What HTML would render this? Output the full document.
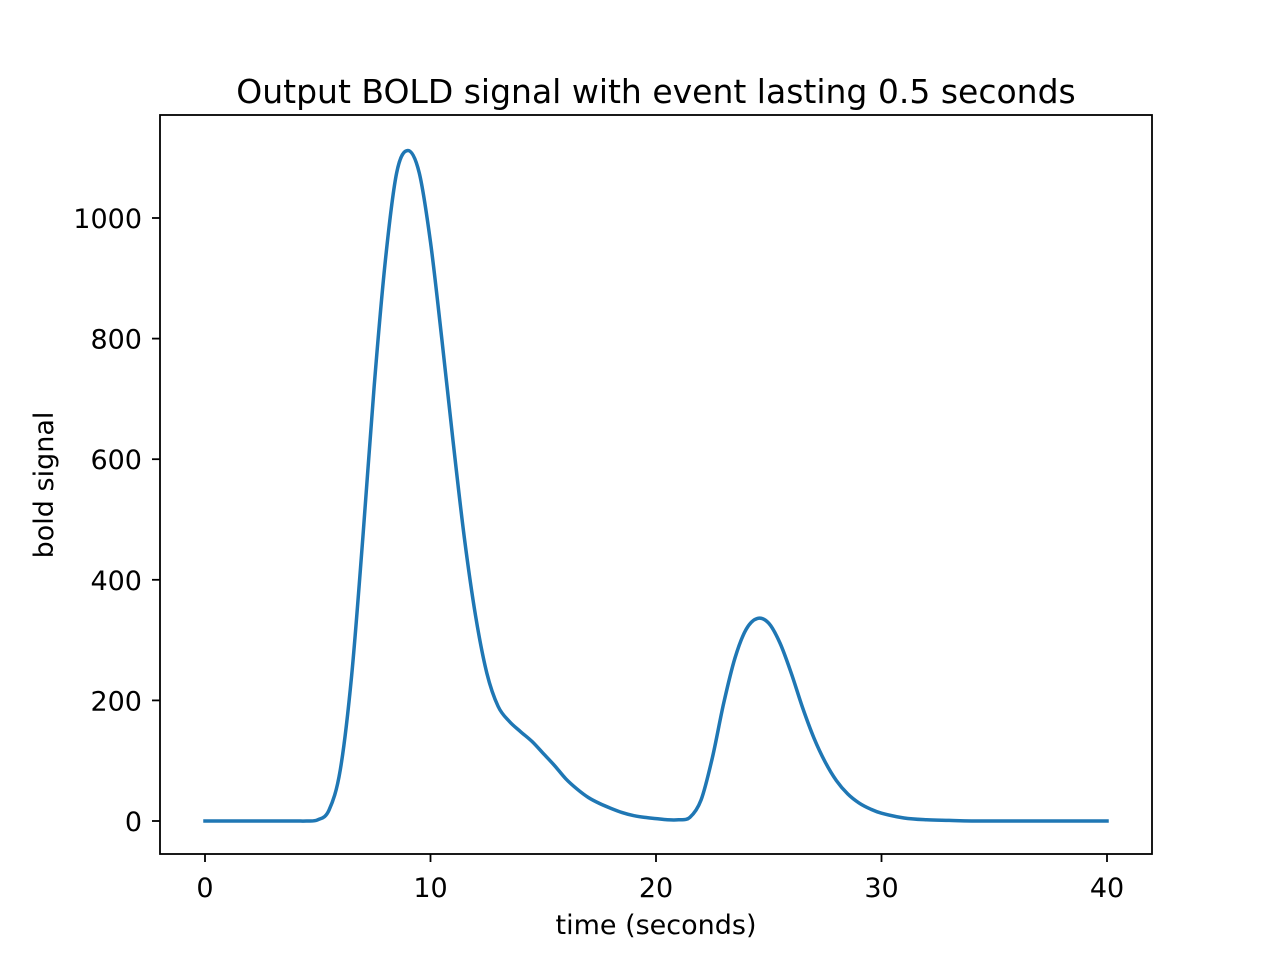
<!DOCTYPE html>
<html><head><meta charset="utf-8"><style>
body{margin:0;background:#fff}
svg text{font-family:"DejaVu Sans","Liberation Sans",sans-serif;fill:#000}
</style></head><body>
<svg id="chart" width="1280" height="960" xmlns="http://www.w3.org/2000/svg">
<rect width="1280" height="960" fill="#fff"/>
<g id="ax"></g>
</svg>
<script>
const times=[0,1,2,3,4,4.5,5,5.5,6,6.5,7,7.5,8,8.5,9,9.5,10,10.5,11,11.5,12,12.5,13,13.5,14,14.5,15,15.5,16,16.5,17,17.5,18,18.5,19,19.5,20,20.5,21,21.5,22,22.5,23,23.5,24,24.5,25,25.5,26,26.5,27,27.5,28,28.5,29,29.5,30,31,32,33,34,36,38,40];
const signal=[0,0,0,0,0,0,2,18,85,240,470,720,930,1075,1112,1075,960,800,630,470,340,245,190,165,148,132,112,92,70,53,39,29,21,14,9,6,4,2,2,6,35,105,195,270,318,336,328,295,245,188,138,98,67,45,30,20,13,5,2,1,0,0,0,0];
const xTicks=[0,10,20,30,40];
const yTicks=[0,200,400,600,800,1000];
const L=160,R=1152,T=115,B=854;
const xs=v=>205+v*(1107-205)/40;
const ys=v=>821-v*(821-218)/1000;
const ns="http://www.w3.org/2000/svg";
const g=document.getElementById('ax');
function el(t,a,txt){const e=document.createElementNS(ns,t);for(const k in a)e.setAttribute(k,a[k]);if(txt!==undefined)e.textContent=txt;g.appendChild(e);return e;}
const P=times.map((t,i)=>[xs(t),ys(signal[i])]);
let d=`M${P[0][0]},${P[0][1]}`;
for(let i=0;i<P.length-1;i++){const p0=P[Math.max(0,i-1)],p1=P[i],p2=P[i+1],p3=P[Math.min(P.length-1,i+2)];
d+=` C${p1[0]+(p2[0]-p0[0])/6},${p1[1]+(p2[1]-p0[1])/6} ${p2[0]-(p3[0]-p1[0])/6},${p2[1]-(p3[1]-p1[1])/6} ${p2[0]},${p2[1]}`;}
const line=el('path',{d:d,fill:'none',stroke:'#1f77b4','stroke-width':3.5,'stroke-linejoin':'round','stroke-linecap':'square'});


const fr=el('rect',{x:L,y:T,width:R-L,height:B-T,fill:'none',stroke:'#000','stroke-width':1.8});


xTicks.forEach(v=>{el('line',{x1:xs(v),x2:xs(v),y1:B,y2:B+8,stroke:'#000','stroke-width':1.8});
const t=el('text',{x:xs(v),y:B+43,'text-anchor':'middle','font-size':27},v);

});
yTicks.forEach(v=>{el('line',{x1:L-8,x2:L,y1:ys(v),y2:ys(v),stroke:'#000','stroke-width':1.8});
const t=el('text',{x:L-18,y:ys(v)+10,'text-anchor':'end','font-size':27},v);

});
const ti=el('text',{x:656,y:103,'text-anchor':'middle','font-size':33},'Output BOLD signal with event lasting 0.5 seconds');


const xl=el('text',{x:656,y:934,'text-anchor':'middle','font-size':27},'time (seconds)');


const yl=el('text',{x:0,y:0,'text-anchor':'middle','font-size':27,transform:'translate(53,485) rotate(-90)'},'bold signal');


</script>
</body></html>
